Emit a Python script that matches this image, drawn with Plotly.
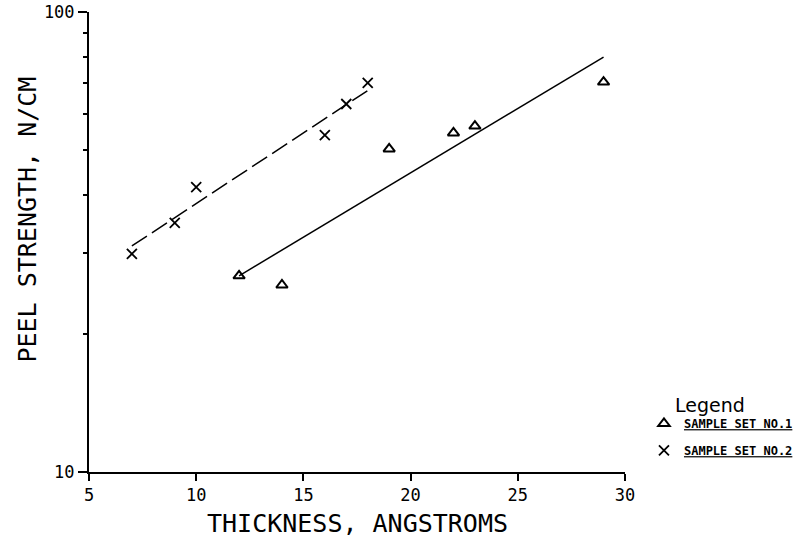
import plotly.graph_objects as go

# Sample set No.1 (triangles)
set1_x = [12, 14, 19, 22, 23, 29]
set1_y = [26.7, 25.5, 50.4, 54.6, 56.5, 70.4]
# Sample set No.2 (crosses)
set2_x = [7, 9, 10, 16, 17, 18]
set2_y = [29.8, 34.8, 41.6, 54.0, 63.1, 70.1]
# Fitted lines (endpoints)
fit1_x = [12, 29]
fit1_y = [26.7, 79.8]
fit2_x = [7, 18]
fit2_y = [31.0, 67.5]

x_ticks = [5, 10, 15, 20, 25, 30]
y_ticks = [10, 100]
y_minor = [20, 30, 40, 50, 60, 70, 80, 90]

FONT = "DejaVu Sans Mono"
fig = go.Figure()
fig.add_trace(go.Scatter(x=fit1_x, y=fit1_y, mode="lines",
                         line=dict(color="black", width=1.5), showlegend=False))
fig.add_trace(go.Scatter(x=fit2_x, y=fit2_y, mode="lines",
                         line=dict(color="black", width=1.5, dash="18px,6px"), showlegend=False))
fig.add_trace(go.Scatter(x=set1_x, y=set1_y, mode="markers", name="<u>SAMPLE SET NO.1</u>",
                         legendgroup="a",
                         marker=dict(symbol="triangle-up-open", size=10, color="black",
                                     line=dict(width=2, color="black"))))
fig.add_trace(go.Scatter(x=set2_x, y=set2_y, mode="markers", name="<u>SAMPLE SET NO.2</u>",
                         legendgroup="b",
                         marker=dict(symbol="x-thin-open", size=10, color="black",
                                     line=dict(width=1.8, color="black"))))

fig.update_layout(
    width=800, height=544,
    margin=dict(l=89, r=175, t=12, b=72, autoexpand=False),
    paper_bgcolor="white", plot_bgcolor="white",
    font=dict(family=FONT, color="black"),
    xaxis=dict(range=[5, 30], tickvals=x_ticks, ticktext=[str(v) for v in x_ticks],
               automargin=False, ticklabeloverflow="allow",
               showgrid=False, zeroline=False, showline=True, linecolor="black", linewidth=2,
               ticks="outside", ticklen=7, tickwidth=1.5, tickcolor="black",
               tickfont=dict(size=17, family=FONT)),
    yaxis=dict(type="log", range=[1, 2], tickvals=y_ticks, ticktext=["10", "100"],
               automargin=False, ticklabeloverflow="allow",
               showgrid=False, zeroline=False, showline=True, linecolor="black", linewidth=2,
               ticks="outside", ticklen=9, tickwidth=1.5, tickcolor="black",
               tickfont=dict(size=17, family=FONT),
               minor=dict(tickvals=y_minor, ticks="outside",
                          ticklen=4, tickwidth=1.5, tickcolor="black")),
    legend=dict(x=1.0354, y=0.137, xref="paper", yref="paper", xanchor="left", yanchor="top",
                font=dict(size=12, family="DejaVu Sans Mono", weight="bold"),
                traceorder="grouped", tracegroupgap=8,
                bgcolor="rgba(0,0,0,0)", itemwidth=30),
    showlegend=True,
)
fig.add_annotation(text="Legend", xref="paper", yref="paper",
                   x=1.1586, y=0.1457, xanchor="center", yanchor="middle", showarrow=False,
                   font=dict(size=19, family="DejaVu Sans"))
fig.add_annotation(text="THICKNESS, ANGSTROMS", xref="paper", yref="paper",
                   x=0.5, y=-0.113, xanchor="center", yanchor="middle", showarrow=False,
                   font=dict(size=25, family=FONT))
fig.add_annotation(text="PEEL STRENGTH, N/CM", xref="paper", yref="paper",
                   x=-0.1145, y=0.548, xanchor="center", yanchor="middle", textangle=-90,
                   showarrow=False, font=dict(size=25, family=FONT))
# remove the default 8px page margin so the figure fills the window exactly
fig.write_html("out.html", config={"displayModeBar": False},
               post_script="document.body.style.margin='0';")
